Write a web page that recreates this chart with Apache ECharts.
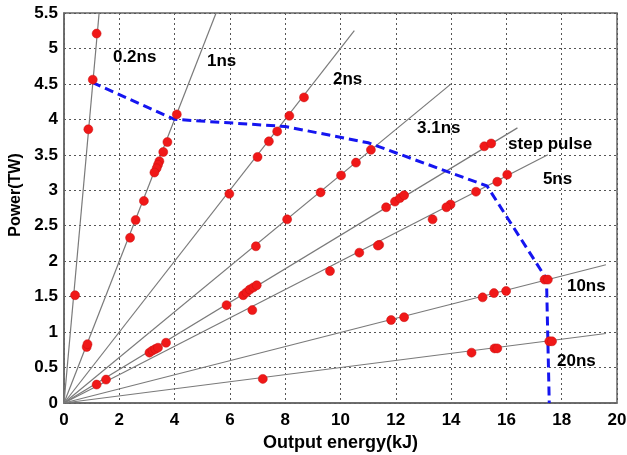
<!DOCTYPE html>
<html>
<head>
<meta charset="utf-8">
<script src="https://cdn.jsdelivr.net/npm/echarts@6/dist/echarts.min.js"></script>
<style>
  html, body { margin: 0; padding: 0; background: #fff; }
  #chart { width: 627px; height: 455px; }
</style>
</head>
<body>
<div id="chart"></div>
<script>
// Constant pulse-width lines through the origin: end points [energy kJ, power TW]
const pulseLineNames = ['0.2ns', '1ns', '2ns', '3.1ns', 'step pulse', '5ns', '10ns', '20ns'];
const pulseLineEnds = [
  [1.27, 5.5], [5.5, 5.5], [10.5, 5.25], [14.0, 4.5],
  [16.4, 3.88], [17.5, 3.5], [19.6, 1.95], [19.6, 0.98]
];

// Measured shots [energy kJ, power TW]
const shotPoints = [
  // 0.2ns
  [1.18, 5.21], [1.04, 4.56], [0.88, 3.86], [0.40, 1.52],
  // 1ns
  [4.08, 4.07], [3.74, 3.68], [3.59, 3.54], [3.45, 3.41], [3.40, 3.36], [3.35, 3.31],
  [3.27, 3.25], [2.89, 2.85], [2.59, 2.58], [2.39, 2.33], [0.82, 0.79], [0.85, 0.83],
  // 2ns
  [8.68, 4.31], [8.15, 4.05], [7.71, 3.83], [7.41, 3.69], [7.0, 3.47], [5.98, 2.95],
  [1.18, 0.26], [1.52, 0.33],
  // 3.1ns
  [11.1, 3.57], [10.56, 3.39], [10.02, 3.21], [9.28, 2.97], [8.07, 2.59], [6.94, 2.21],
  [6.48, 1.52], [6.60, 1.56], [6.72, 1.60], [6.85, 1.63], [6.97, 1.66], [5.88, 1.38],
  // step pulse
  [15.2, 3.62], [15.45, 3.66], [11.65, 2.76], [11.97, 2.84], [12.15, 2.89], [12.3, 2.93],
  [3.09, 0.71], [3.20, 0.74], [3.30, 0.76], [3.40, 0.78], [3.69, 0.85],
  // 5ns
  [16.03, 3.22], [15.67, 3.12], [14.9, 2.98], [13.98, 2.80], [13.83, 2.76], [13.33, 2.59],
  [11.4, 2.23], [11.35, 2.22], [10.68, 2.12], [9.62, 1.86], [6.81, 1.31],
  // 10ns
  [17.38, 1.74], [17.5, 1.74], [15.99, 1.58], [15.55, 1.55], [15.14, 1.49],
  [12.3, 1.21], [11.83, 1.17],
  // 20ns
  [17.55, 0.87], [17.65, 0.87], [15.57, 0.77], [15.67, 0.77], [14.74, 0.71], [7.19, 0.34]
];

// Maximum power envelope
const envelope = [
  [1.02, 4.52], [4.0, 4.0], [8.0, 3.9], [11.0, 3.67], [15.3, 3.06], [17.45, 1.75], [17.55, 0]
];

// Line name positions (left edge of the text) [energy kJ, power TW]
const labelPositions = [
  [1.77, 4.87], [5.17, 4.82], [9.73, 4.57], [12.77, 3.88],
  [16.06, 3.65], [17.32, 3.16], [18.19, 1.64], [17.83, 0.59]
];

const xTicks = { min: 0, max: 20, interval: 2 };
const yTicks = { min: 0, max: 5.5, interval: 0.5 };

const chart = echarts.init(document.getElementById('chart'));

const fontFamily = 'Liberation Sans, Arial, sans-serif';

const series = [];
pulseLineEnds.forEach((end, i) => {
  series.push({
    name: pulseLineNames[i],
    type: 'line',
    data: [[0, 0], end],
    symbol: 'none',
    silent: true,
    lineStyle: { color: '#7a7a7a', width: 1.2 },
    z: 2
  });
});
series.push({
  type: 'line',
  data: envelope,
  symbol: 'none',
  lineStyle: { color: '#1515f0', width: 3, type: [9, 5] },
  z: 4
});
series.push({
  type: 'scatter',
  data: shotPoints,
  symbol: 'circle',
  symbolSize: 9,
  itemStyle: { color: '#f01818', borderColor: '#c81010', borderWidth: 0.5, opacity: 1 },
  z: 5
});
series.push({
  type: 'scatter',
  data: labelPositions.map((p, i) => ({ value: p, name: pulseLineNames[i] })),
  symbolSize: 0,
  silent: true,
  label: {
    show: true,
    position: 'right',
    distance: 0,
    formatter: p => p.name,
    color: '#000',
    opacity: 1,
    fontSize: 17,
    fontWeight: 'bold',
    fontFamily: fontFamily
  },
  z: 6
});

chart.setOption({
  animation: false,
  grid: {
    left: 64, right: 10, top: 13, bottom: 52,
    outerBoundsMode: 'none',
    containLabel: false,
    show: true, borderColor: '#666', borderWidth: 1.5
  },
  xAxis: {
    type: 'value',
    min: xTicks.min, max: xTicks.max, interval: xTicks.interval,
    name: 'Output energy(kJ)',
    nameLocation: 'middle',
    nameGap: 29,
    nameTextStyle: { fontSize: 18, fontWeight: 'bold', color: '#000', fontFamily: fontFamily },
    axisLine: { show: true, lineStyle: { color: '#666', width: 1.5 } },
    axisTick: { show: false },
    axisLabel: { fontSize: 17, fontWeight: 'bold', color: '#000', fontFamily: fontFamily, margin: 9 },
    splitLine: { show: true, lineStyle: { color: '#555', type: [2, 3], width: 1 } }
  },
  yAxis: {
    type: 'value',
    min: yTicks.min, max: yTicks.max, interval: yTicks.interval,
    name: 'Power(TW)',
    nameLocation: 'middle',
    nameGap: 32,
    nameTextStyle: { fontSize: 16, fontWeight: 'bold', color: '#000', fontFamily: fontFamily, padding: [0, 0, 0, 26] },
    axisLine: { show: true, lineStyle: { color: '#666', width: 1.5 } },
    axisTick: { show: false },
    axisLabel: { fontSize: 17, fontWeight: 'bold', color: '#000', fontFamily: fontFamily, margin: 6 },
    splitLine: { show: true, lineStyle: { color: '#555', type: [2, 3], width: 1 } }
  },
  series: series
});
</script>
</body>
</html>
